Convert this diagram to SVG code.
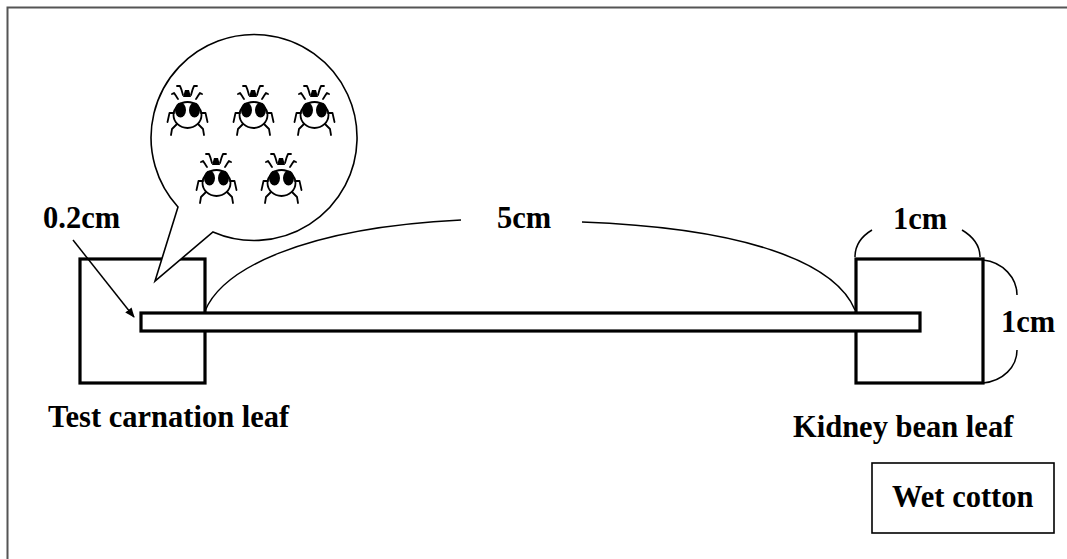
<svg xmlns="http://www.w3.org/2000/svg" width="1067" height="559" viewBox="0 0 1067 559">
  <style>
    .lbl { font-family: "Liberation Serif", "Times New Roman", serif; font-weight: bold; font-size: 30.5px; fill: #000; }
    .leaf { fill: #fff; stroke: #000; stroke-width: 3.2; }
    .thin { fill: none; stroke: #000; stroke-width: 1.5; }
    .bugline { fill: none; stroke: #000; stroke-width: 1.8; stroke-linecap: round; stroke-linejoin: round; }
  </style>
  <defs>
    <marker id="arrowhead" markerWidth="10" markerHeight="10" refX="9" refY="5" orient="auto" markerUnits="userSpaceOnUse">
      <path d="M0,1 L10,5 L0,9 Z" fill="#000"/>
    </marker>
    <!-- small mite figure, origin at the body centre -->
    <g id="mite">
      <path class="bugline" d="M-4,-19 C-5,-23 -6,-26 -7,-28 L-10,-28"/>
      <path class="bugline" d="M4,-19 C5,-23 6,-26 7,-28 L10,-28"/>
      <path class="bugline" d="M-9,-15 C-11,-18 -12,-20 -13,-21 L-15,-20"/>
      <path class="bugline" d="M9,-15 C11,-18 12,-20 13,-21 L15,-20"/>
      <path d="M-4,-17 L4,-17 L2,-24 L-2,-24 Z" fill="#000"/>
      <ellipse cx="0.5" cy="1" rx="14" ry="13" fill="#fff" stroke="#000" stroke-width="1.8"/>
      <path class="bugline" d="M-13,-1 L-17.5,-1 L-19.5,8"/>
      <path class="bugline" d="M14,-1 L18.5,-1 L20.5,8"/>
      <path class="bugline" d="M-10,10 L-15,15 L-16,21"/>
      <path class="bugline" d="M11,10 L16,15 L17,21"/>
      <ellipse cx="-6.5" cy="-4" rx="5.5" ry="7.5" fill="#000"/>
      <ellipse cx="7.5" cy="-4" rx="5.5" ry="7.5" fill="#000"/>
    </g>
  </defs>

  <rect width="1067" height="559" fill="#fff"/>

  <!-- outer frame (top and left edges) -->
  <path d="M7.5,559 L7.5,7.5 L1067,7.5" fill="none" stroke="#555" stroke-width="2"/>

  <!-- leaf discs -->
  <g id="carnation-leaf">
    <rect class="leaf" x="80" y="259" width="125" height="124"/>
  </g>
  <g id="bean-leaf">
    <rect class="leaf" x="856" y="259" width="127" height="124"/>
  </g>

  <!-- bridge strip joining the two leaves -->
  <g id="bridge">
    <rect class="leaf" x="141" y="313" width="779" height="18"/>
  </g>

  <!-- callout with mites -->
  <g id="callout">
    <path d="M213,232 A103,103 0 1 0 178,207 L155,281 Z" fill="#fff" stroke="#000" stroke-width="1.6" stroke-linejoin="miter"/>
    <use href="#mite" x="187" y="114"/>
    <use href="#mite" x="253" y="114"/>
    <use href="#mite" x="314" y="114"/>
    <use href="#mite" x="216" y="182"/>
    <use href="#mite" x="281" y="182"/>
  </g>

  <!-- dimension marks -->
  <g id="connectors">
    <line x1="73" y1="240" x2="134" y2="317" stroke="#000" stroke-width="1.5" marker-end="url(#arrowhead)"/>
    <path class="thin" d="M205,311 C222,270 300,228 461,220"/>
    <path class="thin" d="M582,222 C745,228 835,262 855,310"/>
    <path class="thin" d="M855,257 C855,245 862,236 872,230"/>
    <path class="thin" d="M962,230 C972,236 980,245 980,257"/>
    <path class="thin" d="M983,260 C1003,262 1017,278 1017,295"/>
    <path class="thin" d="M1017,350 C1017,367 1003,381 983,383"/>
  </g>

  <!-- labels -->
  <g id="labels">
    <text class="lbl" x="43" y="228">0.2cm</text>
    <text class="lbl" x="497" y="228">5cm</text>
    <text class="lbl" x="893" y="229">1cm</text>
    <text class="lbl" x="1001" y="332">1cm</text>
    <text class="lbl" x="48" y="427">Test carnation leaf</text>
    <text class="lbl" x="793" y="437">Kidney bean leaf</text>
  </g>

  <g id="wet-cotton">
    <rect x="872" y="463" width="182" height="70" fill="#fff" stroke="#000" stroke-width="1.6"/>
    <text class="lbl" x="892" y="507">Wet cotton</text>
  </g>
</svg>
